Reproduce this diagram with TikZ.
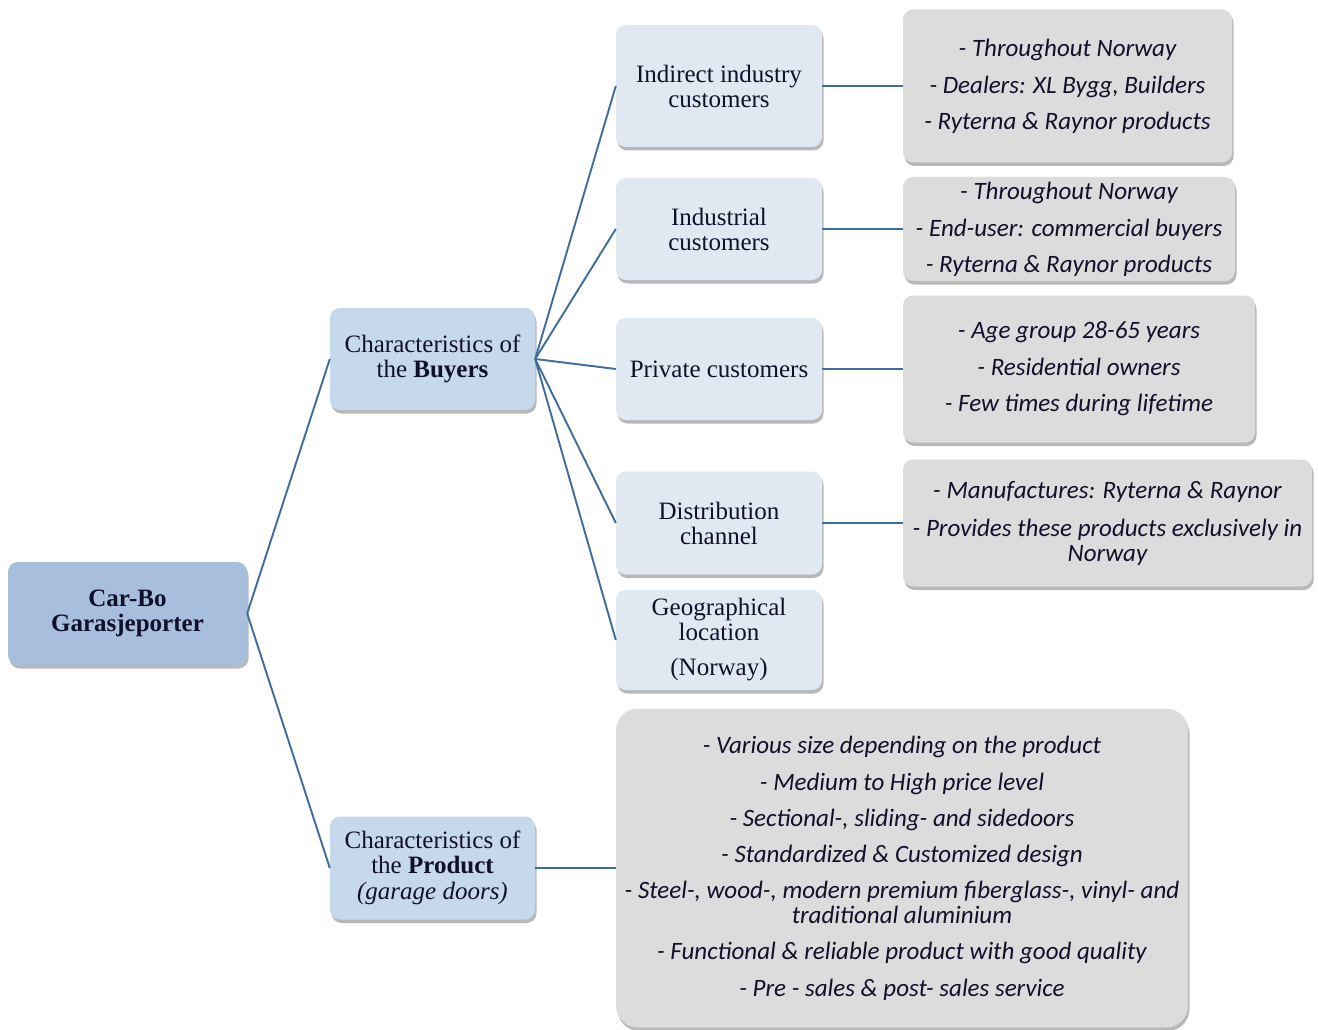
\documentclass[tikz,border=0pt]{standalone}
\usepackage{fontspec}
\setmainfont{Liberation Serif}
\newfontfamily\itfont{Carlito}
\usetikzlibrary{shadows}
\definecolor{rootblue}{HTML}{A7BFDD}
\definecolor{midblue}{HTML}{C6D9EC}
\definecolor{lightblue}{HTML}{E0E9F1}
\definecolor{grayfill}{HTML}{DCDCDC}
\definecolor{linecol}{HTML}{3F6C9C}
\definecolor{txt}{HTML}{10102A}
\tikzset{
  box/.style={rounded corners=10pt, draw=none, align=center, text=txt, inner sep=2pt,
    drop shadow={shadow xshift=1.5pt, shadow yshift=-3.5pt, fill=black, opacity=0.28}},
  rootbox/.style={box, fill=rootblue, minimum width=239pt, minimum height=103pt,
    font=\bfseries\fontsize{25}{25}\selectfont},
  charbox/.style={box, fill=midblue, minimum width=205pt, minimum height=102pt,
    font=\fontsize{25}{25}\selectfont},
  catbox/.style={box, fill=lightblue, minimum width=206pt,
    font=\fontsize{25}{25}\selectfont},
  infobox/.style={box, fill=grayfill, font=\itfont\itshape\fontsize{25}{25}\selectfont},
  conn/.style={draw=linecol, line width=1.9pt}
}
\begin{document}
\begin{tikzpicture}[x=1pt,y=-1pt]
\useasboundingbox (0,0) rectangle (1318,1030);

\node[rootbox] (root) at (127.5,613.5) {Car-Bo\\Garasjeporter};
\node[charbox] (buyers) at (432.5,359) {Characteristics of\\the \textbf{Buyers}};
\node[charbox, minimum height=103pt] (product) at (432.5,868) {Characteristics of\\the \textbf{Product}\\[1pt]\textit{(garage doors)}};

\node[catbox, minimum height=122pt] (indirect) at (719,86) {Indirect industry\\customers};
\node[catbox, minimum height=102pt] (industrial) at (719,229) {Industrial\\customers};
\node[catbox, minimum height=102pt] (private) at (719,369) {Private customers};
\node[catbox, minimum height=103pt] (distrib) at (719,523) {Distribution\\channel};
\node[catbox, minimum height=100pt] (geo) at (719,640) {Geographical\\location\\[10pt](Norway)};

\node[infobox, minimum width=329pt, minimum height=153pt] (info1) at (1067.5,86)
  {- Throughout Norway\\[12pt]- Dealers: XL Bygg, Builders\\[11pt]- Ryterna \& Raynor products};
\node[infobox, minimum width=332pt, minimum height=104pt] (info2) at (1069,229)
  {- Throughout Norway\\[12pt]- End-user: commercial buyers\\[11pt]- Ryterna \& Raynor products};
\node[infobox, minimum width=352pt, minimum height=147pt] (info3) at (1079,369)
  {- Age group 28-65 years\\[12pt]- Residential owners\\[11pt]- Few times during lifetime};
\node[infobox, minimum width=409pt, minimum height=127pt] (info4) at (1107.5,523)
  {- Manufactures: Ryterna \& Raynor\\[13pt]- Provides these products exclusively in\\Norway};
\node[infobox, rounded corners=22pt, minimum width=572pt, minimum height=319pt] (info5) at (902,868)
  {- Various size depending on the product\\[12pt]- Medium to High price level\\[11pt]- Sectional-, sliding- and sidedoors\\[11pt]- Standardized \& Customized design\\[11pt]- Steel-, wood-, modern premium fiberglass-, vinyl- and\\traditional aluminium\\[11pt]- Functional \& reliable product with good quality\\[12pt]- Pre - sales \& post- sales service};

\draw[conn] (root.east) -- (buyers.west);
\draw[conn] (root.east) -- (product.west);
\foreach \n in {indirect,industrial,private,distrib,geo}
  \draw[conn] (buyers.east) -- (\n.west);
\draw[conn] (indirect.east) -- (info1.west);
\draw[conn] (industrial.east) -- (info2.west);
\draw[conn] (private.east) -- (info3.west);
\draw[conn] (distrib.east) -- (info4.west);
\draw[conn] (product.east) -- (info5.west);
\end{tikzpicture}
\end{document}
